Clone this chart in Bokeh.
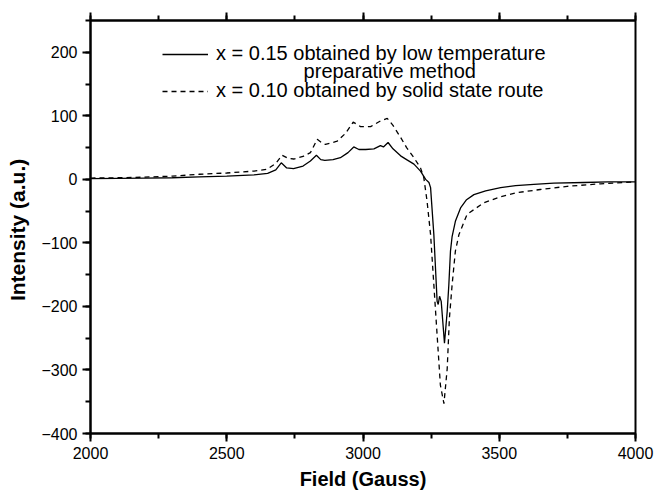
from bokeh.plotting import figure
from bokeh.models import (Range1d, SingleIntervalTicker, LinearAxis, Legend, LegendItem, Label)
from bokeh.embed import file_html
from bokeh.resources import INLINE

# Solid curve: x = 0.15, low temperature preparative method
field_a = [2000, 2100, 2200, 2300, 2400, 2500, 2600, 2650, 2680, 2700, 2720, 2745, 2780,
           2807, 2829, 2845, 2860, 2890, 2917, 2945, 2966, 2985, 3010, 3040, 3064, 3075,
           3092, 3110, 3138, 3160, 3187, 3211, 3230, 3242, 3248, 3260, 3272, 3276, 3281,
           3287, 3299, 3309, 3315, 3321, 3327, 3339, 3358, 3380, 3407, 3450, 3505, 3560,
           3627, 3700, 3811, 3900, 4000]
int_a = [1, 1.5, 2, 2.5, 4, 5, 7, 9.5, 15, 26, 18, 17, 21,
         29, 38, 31, 30, 31, 34, 42, 51, 47, 47, 48, 53, 51,
         58, 48, 37, 31, 24, 13, 0, -5, -13, -87, -192, -197, -184,
         -192, -258, -208, -166, -113, -90, -66, -45, -32, -24, -18, -13, -10,
         -8, -6, -5, -4, -4]

# Dashed curve: x = 0.10, solid state route
field_b = [2000, 2100, 2200, 2300, 2400, 2500, 2600, 2648, 2680, 2703, 2725, 2746, 2780,
           2807, 2832, 2850, 2862, 2905, 2935, 2964, 2980, 2991, 3028, 3064, 3089, 3110,
           3138, 3160, 3187, 3211, 3223, 3235, 3248, 3260, 3272, 3284, 3297, 3309, 3317,
           3327, 3339, 3352, 3382, 3443, 3500, 3565, 3650, 3749, 3872, 4000]
int_b = [2, 2.5, 3.5, 5, 8, 10, 13, 16, 25, 38, 33, 32, 36,
         42, 63, 57, 55, 60, 72, 90, 86, 83, 83, 92, 96, 85,
         66, 50, 34, 18, 3, -34, -87, -166, -245, -324, -353, -298, -219,
         -166, -113, -87, -55, -37, -28, -21, -16, -11, -7, -4]

label_a1 = "x = 0.15 obtained by low temperature"
label_a2 = "preparative method"
label_b = "x = 0.10 obtained by solid state route"

FONT = "Liberation Sans"

p = figure(width=655, height=496, output_backend="svg", toolbar_location=None,
           x_range=Range1d(2000, 4000), y_range=Range1d(-400, 250),
           min_border_left=90, min_border_right=20, min_border_top=20, min_border_bottom=63,
           x_axis_label="Field (Gauss)", y_axis_label="Intensity  (a.u.)")

p.xgrid.visible = False
p.ygrid.visible = False
p.outline_line_color = "black"
p.outline_line_width = 2
p.outline_line_alpha = 1
p.background_fill_color = "white"
p.border_fill_color = "white"

p.xaxis.ticker = SingleIntervalTicker(interval=500, num_minor_ticks=2)
p.yaxis.ticker = SingleIntervalTicker(interval=100, num_minor_ticks=2)

for ax in (p.xaxis[0], p.yaxis[0]):
    ax.axis_line_width = 2
    ax.axis_line_color = "black"
    ax.major_tick_line_width = 2
    ax.minor_tick_line_width = 2
    ax.major_tick_in = 0
    ax.major_tick_out = 8
    ax.minor_tick_in = 0
    ax.minor_tick_out = 5
    ax.major_label_text_font = FONT
    ax.major_label_text_font_size = "16px"
    ax.major_label_text_color = "black"
    ax.axis_label_text_font = FONT
    ax.axis_label_text_font_style = "bold"
    ax.axis_label_text_color = "black"

p.xaxis.major_label_standoff = 5
p.yaxis.major_label_standoff = 5
p.xaxis.axis_label_text_font_size = "20px"
p.yaxis.axis_label_text_font_size = "21px"
p.xaxis.axis_label_standoff = 6
p.yaxis.axis_label_standoff = 9

top = LinearAxis(ticker=SingleIntervalTicker(interval=500, num_minor_ticks=2),
                 major_label_text_color=None, major_label_text_font_size="10px",
                 axis_line_width=2,
                 major_tick_line_width=2, minor_tick_line_width=2,
                 major_tick_in=0, major_tick_out=8, minor_tick_in=0, minor_tick_out=5,
                 major_label_standoff=0)
p.add_layout(top, "above")

r_a = p.line(field_a, int_a, line_color="black", line_width=1.3)
r_b = p.line(field_b, int_b, line_color="black", line_width=1.3, line_dash="5 4")

legend = Legend(items=[LegendItem(label=label_a1, renderers=[r_a]),
                       LegendItem(label=label_b, renderers=[r_b])],
                location=(72, 331), label_text_font=FONT, label_text_font_size="20px",
                label_text_color="black", glyph_width=46, glyph_height=20, label_height=20,
                spacing=14, padding=0, margin=0, label_standoff=8,
                border_line_color=None, background_fill_alpha=0)
p.add_layout(legend)

p.add_layout(Label(x=2782, y=170.5, text=label_a2, text_font=FONT, text_font_size="20px",
                   text_baseline="middle", text_align="left", text_color="black"))

open("out.html", "w").write(file_html(p, INLINE))
